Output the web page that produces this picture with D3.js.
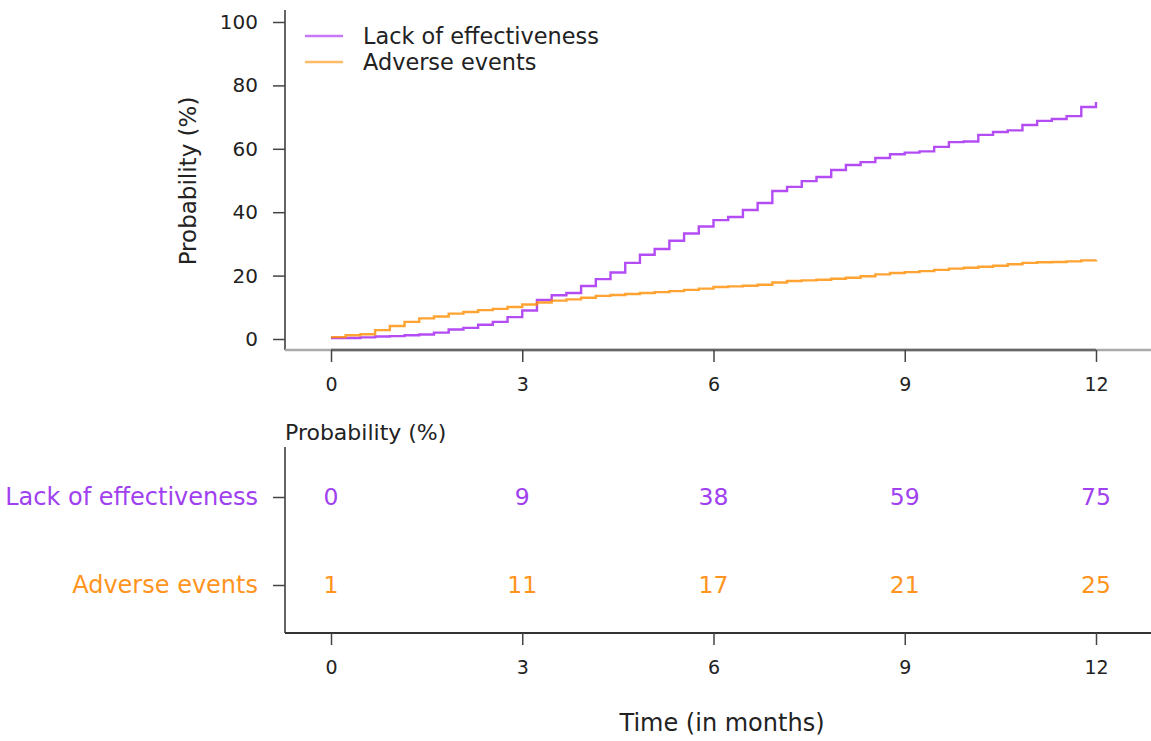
<!DOCTYPE html>
<html lang="en">
<head>
<meta charset="UTF-8">
<title>Cumulative probability of discontinuation</title>
<script src="https://d3js.org/d3.v7.min.js"></script>
<style>
    body { margin: 0; background: #fff; font-family: "DejaVu Sans", sans-serif; }
    svg text { fill: #222; }
</style>
</head>
<body>
<div id="chart"></div>
<script>
    // series names and colours
    const seriesNames = ["Lack of effectiveness", "Adverse events"];
    const seriesColors = ["#a020f0", "#ff8c00"];
    const tableColors = ["#a040f0", "#ff9420"];

    // weekly cumulative probability (%), weeks 0..52
    const lackValues = [0.3, 0.3, 0.5, 0.8, 0.9, 1.2, 1.4, 2.0, 3.0, 3.5, 4.5, 5.4, 6.9,
        9.0, 12.3, 13.8, 14.5, 16.7, 18.9, 21.0, 24.0, 26.6, 28.4, 31.0, 33.3, 35.5,
        37.5, 38.5, 40.7, 42.9, 46.7, 48.0, 49.8, 51.1, 53.3, 54.9, 55.8, 57.1, 58.3,
        58.8, 59.2, 60.6, 62.1, 62.3, 64.4, 65.3, 65.8, 67.5, 68.8, 69.4, 70.3, 73.2, 74.8];
    const adverseValues = [0.6, 1.2, 1.5, 2.8, 4.1, 5.4, 6.5, 7.1, 8.0, 8.5, 9.1, 9.5, 10.1,
        10.9, 11.5, 12.1, 12.5, 13.0, 13.6, 13.9, 14.2, 14.5, 14.8, 15.1, 15.5, 15.9,
        16.4, 16.6, 16.8, 17.1, 17.8, 18.3, 18.5, 18.7, 19.0, 19.3, 19.8, 20.4, 20.8,
        21.1, 21.4, 21.8, 22.2, 22.5, 22.8, 23.1, 23.6, 24.0, 24.2, 24.3, 24.5, 24.8, 25.0];

    // table below the plot
    const timeTicks = [0, 3, 6, 9, 12];
    const lackTable = [0, 9, 38, 59, 75];
    const adverseTable = [1, 11, 17, 21, 25];
    const yTicks = [0, 20, 40, 60, 80, 100];

    const W = 1151, H = 741;
    const svg = d3.select("#chart").append("svg")
        .attr("width", W).attr("height", H);

    const x = d3.scaleLinear().domain([0, 12]).range([331, 1096]);
    const y = d3.scaleLinear().domain([0, 100]).range([339, 22]);

    const axisLeftX = 285, topBase = 350;

    // ---- top panel ----
    // y axis
    svg.append("line").attr("x1", axisLeftX).attr("x2", axisLeftX)
        .attr("y1", 10).attr("y2", topBase)
        .attr("stroke", "#333").attr("stroke-width", 1.5);
    const yAx = svg.append("g").attr("transform", `translate(${axisLeftX},0)`)
        .call(d3.axisLeft(y).tickValues(yTicks).tickSize(12).tickPadding(15));
    yAx.select(".domain").remove();
    yAx.selectAll(".tick line").attr("stroke", "#444").attr("stroke-width", 1.5);
    yAx.selectAll(".tick text").style("font-size", "20px").style("font-family", "DejaVu Sans");

    // x axis
    svg.append("line").attr("x1", axisLeftX).attr("x2", W)
        .attr("y1", topBase).attr("y2", topBase)
        .attr("stroke", "#aaa").attr("stroke-width", 2.5);
    const xAxTop = svg.append("g").attr("transform", `translate(0,${topBase})`)
        .call(d3.axisBottom(x).tickValues(timeTicks).tickSize(12).tickPadding(16));
    xAxTop.select(".domain").attr("stroke", "#666").attr("stroke-width", 2.5)
        .attr("d", `M${x(0)},0H${x(12)}`);
    xAxTop.selectAll(".tick line").attr("stroke", "#444").attr("stroke-width", 1.5);
    xAxTop.selectAll(".tick text").style("font-size", "19px").style("font-family", "DejaVu Sans");

    svg.append("text")
        .attr("transform", `translate(188,181) rotate(-90)`)
        .attr("text-anchor", "middle").attr("dominant-baseline", "central")
        .style("font-size", "23px").text("Probability (%)");

    // curves
    const weeks = d3.range(lackValues.length).map(w => w * 12 / 52);
    const line = d3.line().curve(d3.curveStepAfter)
        .x(d => x(d[0])).y(d => y(d[1]));
    [lackValues, adverseValues].forEach((vals, i) => {
        svg.append("path")
            .datum(vals.map((v, k) => [weeks[k], v]))
            .attr("d", line)
            .attr("fill", "none")
            .attr("stroke", seriesColors[i])
            .attr("stroke-width", 2.4)
            .attr("stroke-opacity", 0.8);
    });

    // legend
    seriesNames.forEach((name, i) => {
        const ly = 36 + i * 26;
        svg.append("line").attr("x1", 305).attr("x2", 343)
            .attr("y1", ly).attr("y2", ly)
            .attr("stroke", seriesColors[i]).attr("stroke-width", 2.5)
            .attr("stroke-opacity", 0.6);
        svg.append("text").attr("x", 363).attr("y", ly)
            .attr("dominant-baseline", "central")
            .style("font-size", "22.4px").text(name);
    });

    // ---- bottom panel (table) ----
    const tTop = 447, tBase = 633;
    const rowY = d3.scalePoint().domain(seriesNames).range([497, 585]);

    svg.append("text").attr("x", 285).attr("y", 440)
        .style("font-size", "22px").text("Probability (%)");

    svg.append("line").attr("x1", axisLeftX).attr("x2", axisLeftX)
        .attr("y1", tTop).attr("y2", tBase)
        .attr("stroke", "#333").attr("stroke-width", 1.5);
    svg.append("line").attr("x1", axisLeftX).attr("x2", W)
        .attr("y1", tBase).attr("y2", tBase)
        .attr("stroke", "#333").attr("stroke-width", 2);

    const rowAx = svg.append("g").attr("transform", `translate(${axisLeftX},0)`)
        .call(d3.axisLeft(rowY).tickSize(12).tickPadding(15));
    rowAx.select(".domain").remove();
    rowAx.selectAll(".tick line").attr("stroke", "#444").attr("stroke-width", 1.5);
    rowAx.selectAll(".tick text")
        .style("font-size", "24px").style("font-family", "DejaVu Sans")
        .style("fill", (d, i) => tableColors[i]);

    const xAxBot = svg.append("g").attr("transform", `translate(0,${tBase})`)
        .call(d3.axisBottom(x).tickValues(timeTicks).tickSize(12).tickPadding(16));
    xAxBot.select(".domain").remove();
    xAxBot.selectAll(".tick line").attr("stroke", "#444").attr("stroke-width", 1.5);
    xAxBot.selectAll(".tick text").style("font-size", "19px").style("font-family", "DejaVu Sans");

    [lackTable, adverseTable].forEach((vals, i) => {
        svg.append("g").selectAll("text").data(vals).join("text")
            .attr("x", (d, k) => x(timeTicks[k]))
            .attr("y", rowY(seriesNames[i]))
            .attr("text-anchor", "middle").attr("dominant-baseline", "central")
            .style("font-size", "23.5px").style("fill", tableColors[i])
            .text(d => d);
    });

    svg.append("text").attr("x", 722).attr("y", 723)
        .attr("text-anchor", "middle").attr("dominant-baseline", "central")
        .style("font-size", "24px").text("Time (in months)");
</script>
</body>
</html>
